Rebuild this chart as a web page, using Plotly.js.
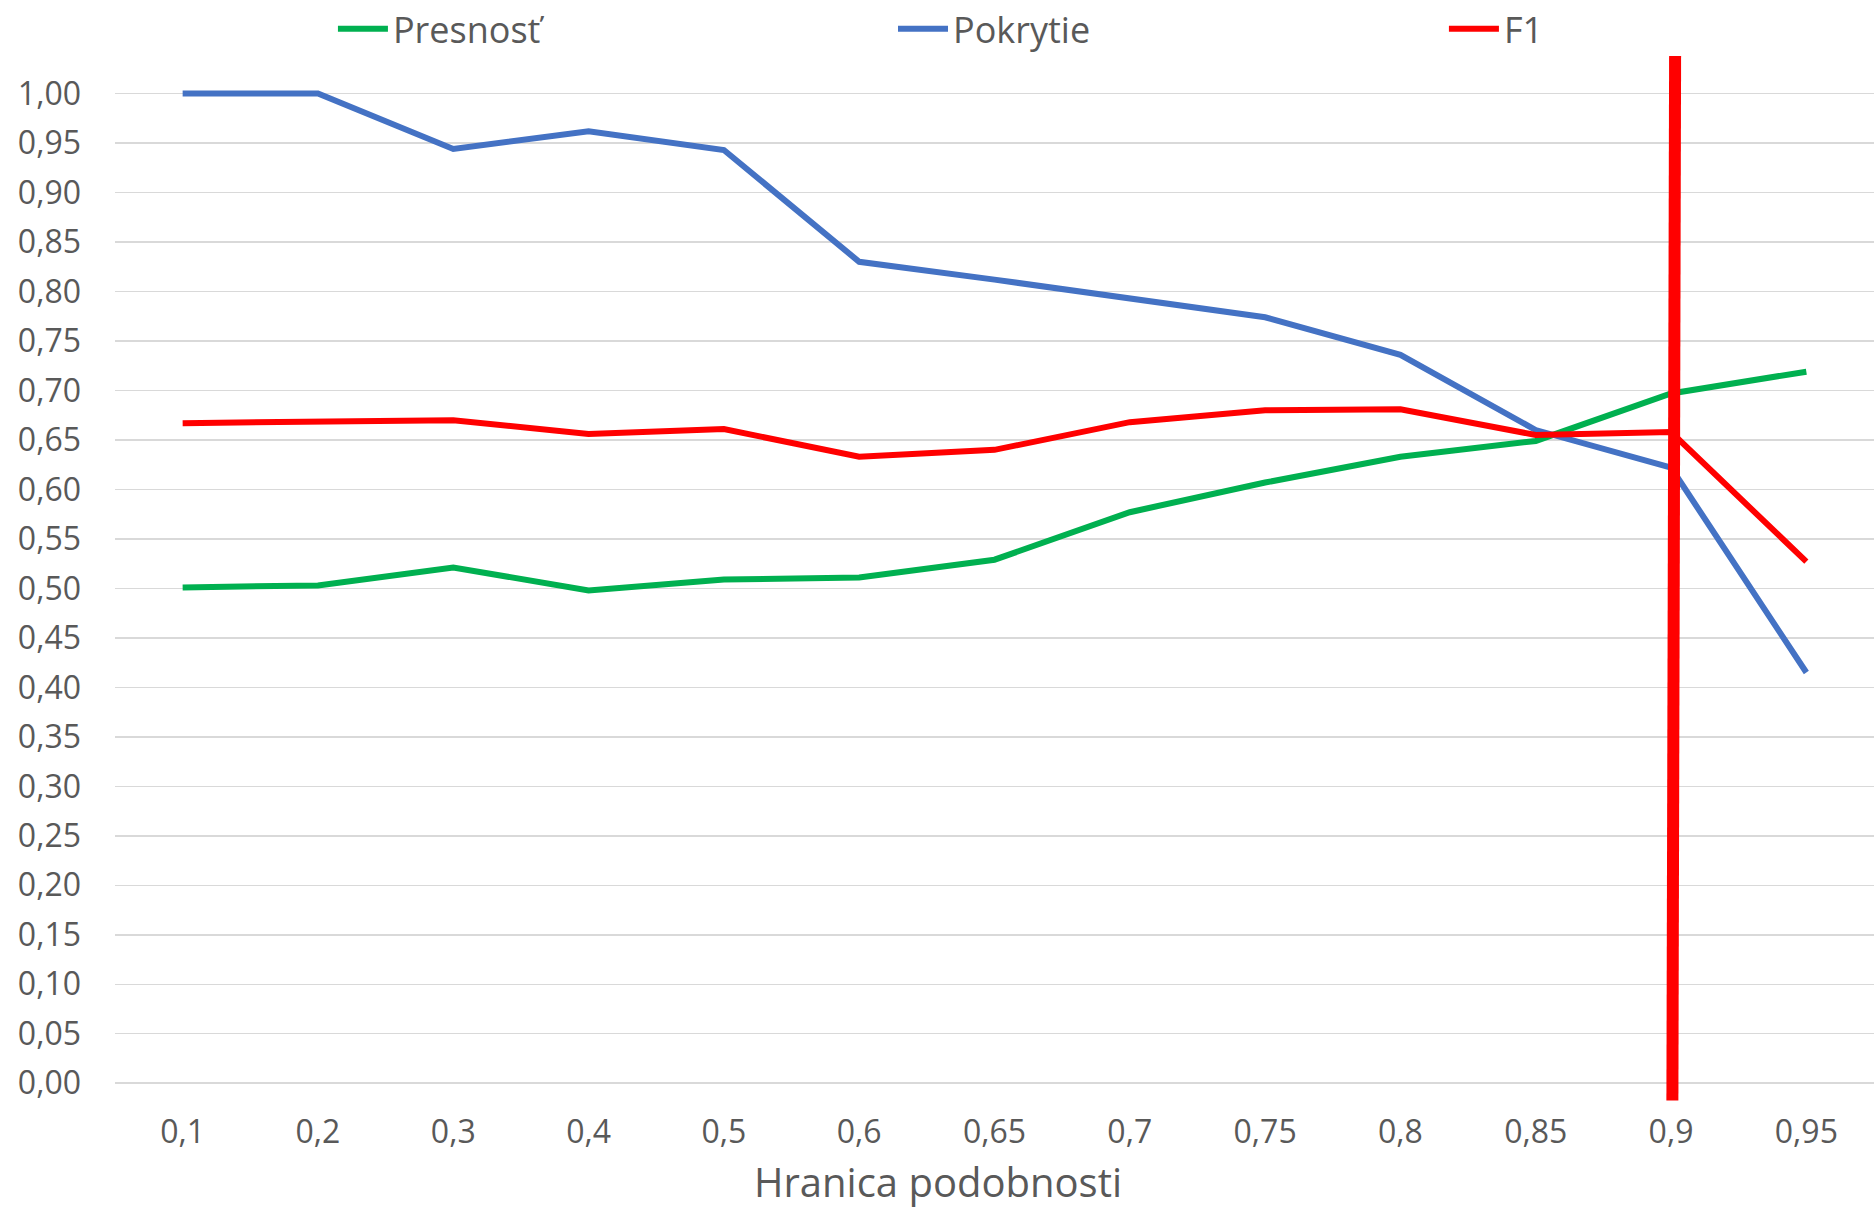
<!DOCTYPE html>
<html>
<head>
<meta charset="utf-8">
<script src="https://cdn.plot.ly/plotly-3.0.1.min.js"></script>
<style>
  html, body { margin: 0; padding: 0; background: #ffffff; }
  #chart { width: 1875px; height: 1211px; }
</style>
</head>
<body>
<div id="chart"></div>
<script>
// ---- data ----
const categories = ['0,1','0,2','0,3','0,4','0,5','0,6','0,65','0,7','0,75','0,8','0,85','0,9','0,95'];
const presnost  = [0.501, 0.503, 0.521, 0.498, 0.509, 0.511, 0.529, 0.577, 0.607, 0.633, 0.649, 0.697, 0.719];
const pokrytie  = [1.000, 1.000, 0.944, 0.962, 0.943, 0.830, 0.812, 0.793, 0.774, 0.736, 0.660, 0.622, 0.415];
const f1        = [0.667, 0.669, 0.670, 0.656, 0.661, 0.633, 0.640, 0.668, 0.680, 0.681, 0.655, 0.658, 0.527];
const seriesNames = ['Presnosť', 'Pokrytie', 'F1'];
const xTitle = 'Hranica podobnosti';
// threshold marker drawn over the chart (at category "0,9")
const markerCategory = '0,9';
const markerBottom = -0.0175;
const markerTop = 1.038;

const FONT = '"Open Sans", "DejaVu Sans", sans-serif';
const GREY = '#595959';
const LW = 6;

const traces = [
  { x: categories, y: presnost, name: seriesNames[0], type: 'scatter', mode: 'lines',
    legend: 'legend', line: { color: '#00B050', width: LW } },
  { x: categories, y: pokrytie, name: seriesNames[1], type: 'scatter', mode: 'lines',
    legend: 'legend2', line: { color: '#4472C4', width: LW } },
  { x: categories, y: f1, name: seriesNames[2], type: 'scatter', mode: 'lines',
    legend: 'legend3', line: { color: '#FF0000', width: LW } }
];

const mi = categories.indexOf(markerCategory);

function legendAt(x) {
  return {
    orientation: 'h', x: x, xanchor: 'left', y: 1.024, yanchor: 'middle',
    itemwidth: 50,
    font: { family: FONT, color: GREY, size: 36 },
    bgcolor: 'rgba(0,0,0,0)', borderwidth: 0
  };
}

const layout = {
  width: 1875, height: 1211,
  paper_bgcolor: '#ffffff', plot_bgcolor: '#ffffff',
  separators: ', ',
  font: { family: FONT, color: GREY, size: 32 },
  margin: { l: 115, r: 1, t: 54, b: 108, pad: 0, autoexpand: false },
  showlegend: true,
  legend: legendAt(0.1239),
  legend2: legendAt(0.4423),
  legend3: legendAt(0.7555),
  xaxis: {
    type: 'category', range: [-0.5, 12.5], fixedrange: true,
    showgrid: false, zeroline: false, showline: false, ticks: '',
    tickfont: { family: FONT, color: GREY, size: 32 },
    ticklabelstandoff: 7
  },
  yaxis: {
    range: [-0.02, 1.04], fixedrange: true,
    tick0: 0, dtick: 0.05, tickformat: '.2f',
    showgrid: true, gridcolor: '#D9D9D9', gridwidth: 1.5,
    zeroline: false, showline: false, ticks: '',
    tickfont: { family: FONT, color: GREY, size: 32 },
    ticklabelstandoff: 33
  },
  shapes: [
    { type: 'line', xref: 'x', yref: 'y',
      x0: mi + 0.01, x1: mi + 0.03, y0: markerBottom, y1: markerTop,
      line: { color: '#FF0000', width: 12 }, layer: 'above' }
  ],
  annotations: [
    { text: xTitle, xref: 'paper', yref: 'paper', x: 0.468, y: -0.1022,
      xanchor: 'center', yanchor: 'bottom', showarrow: false, borderpad: 0,
      font: { family: FONT, color: GREY, size: 40 } }
  ]
};

Plotly.newPlot('chart', traces, layout, { displayModeBar: false, staticPlot: true });
</script>
</body>
</html>
